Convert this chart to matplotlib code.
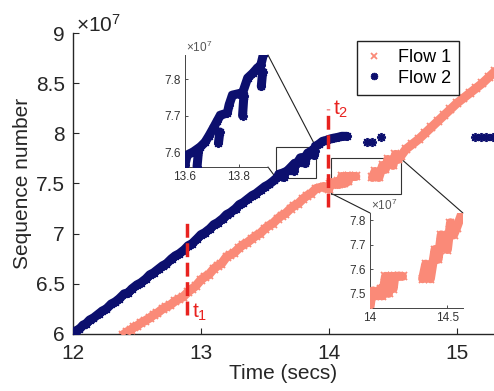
import numpy as np
import matplotlib.pyplot as plt
from matplotlib.patches import Rectangle, ConnectionPatch

plt.rcParams['font.family'] = ['Liberation Sans', 'DejaVu Sans']
plt.rcParams['mathtext.fontset'] = 'custom'
plt.rcParams['mathtext.rm'] = 'Liberation Sans'
plt.rcParams['mathtext.it'] = 'Liberation Sans:italic'

nan = np.nan

# sequence numbers are in units of 1e7, nan breaks the trace where packets stop
flow1_t = [12.39, 12.42, 12.45, 12.48, 12.50, 12.53, 12.56, 12.60, 12.63, 12.66,
           12.70, 12.73, 12.76, 12.80, 12.83, 12.86, 12.90, 12.93, 12.96, 13.00,
           13.03, 13.06, 13.10, 13.13, 13.16, 13.20, 13.23, 13.26, 13.30, 13.33,
           13.36, 13.40, 13.43, 13.46, 13.50, 13.53, 13.56, 13.60, 13.63, 13.66,
           13.70, 13.73, 13.76, 13.80, 13.83, 13.86, 13.90, 13.93, 13.96, 13.99,
           14.00, 14.01, 14.02, nan,
           14.05, 14.07, 14.08, 14.10, 14.11, 14.12, 14.14, 14.15, 14.16, 14.19, 14.21, nan,
           14.34, 14.36, 14.37, 14.39, 14.42, 14.44, 14.46, 14.48, 14.50, 14.52, 14.54,
           14.56, 14.60, 14.65, 14.70, 14.75, 14.80, 14.85, 14.90, 14.95, 15.00,
           15.05, 15.10, 15.15, 15.20, 15.25, 15.30]
flow1_seq = [5.99, 6.02, 6.04, 6.07, 6.08, 6.11, 6.13, 6.16, 6.19, 6.21,
             6.25, 6.27, 6.29, 6.33, 6.35, 6.37, 6.42, 6.45, 6.48, 6.54,
             6.57, 6.59, 6.65, 6.68, 6.70, 6.77, 6.79, 6.81, 6.86, 6.89,
             6.91, 6.95, 6.98, 7.00, 7.05, 7.08, 7.10, 7.15, 7.18, 7.20,
             7.25, 7.28, 7.30, 7.35, 7.38, 7.40, 7.45, 7.46, 7.47, 7.46,
             7.445, 7.49, 7.51, nan,
             7.49, 7.52, 7.49, 7.57, 7.53, 7.50, 7.57, 7.52, 7.57, 7.57, 7.57, nan,
             7.56, 7.62, 7.57, 7.56, 7.68, 7.64, 7.74, 7.70, 7.68, 7.79, 7.74,
             7.77, 7.84, 7.89, 7.94, 8.00, 8.06, 8.12, 8.18, 8.24, 8.30,
             8.35, 8.40, 8.45, 8.50, 8.56, 8.62]

flow2_t = [12.00, 12.02, 12.05, 12.08, 12.10, 12.13, 12.16, 12.20, 12.23, 12.26,
           12.30, 12.33, 12.36, 12.40, 12.43, 12.46, 12.50, 12.53, 12.57, 12.60,
           12.63, 12.67, 12.70, 12.73, 12.77, 12.80, 12.83, 12.87, 12.90, 12.93,
           12.97, 13.00, 13.03, 13.07, 13.10, 13.13, 13.17, 13.20, 13.23, 13.27,
           13.30, 13.33, 13.37, 13.40, 13.43, 13.47, 13.50, 13.53, 13.57,
           13.60, 13.608, 13.63, 13.657, 13.675, 13.69, 13.706, 13.72, 13.732,
           13.758, 13.765, 13.777, 13.80, 13.815, 13.834, 13.853, 13.87, 13.883,
           13.894, 13.92, 13.95, 13.98, 14.00, 14.03, 14.07, 14.10, 14.14, nan,
           13.645, 13.65, nan, 13.725, 13.73, nan, 13.815, 13.82, nan,
           13.885, 13.89, nan,
           14.30, nan, 14.34, nan, 14.41, nan,
           15.14, nan, 15.19, nan, 15.23, nan, 15.28]
flow2_seq = [6.00, 6.03, 6.05, 6.09, 6.10, 6.14, 6.16, 6.20, 6.23, 6.25,
             6.30, 6.32, 6.35, 6.40, 6.41, 6.45, 6.49, 6.51, 6.55, 6.59,
             6.61, 6.65, 6.68, 6.70, 6.75, 6.78, 6.80, 6.84, 6.88, 6.90,
             6.95, 6.99, 7.01, 7.05, 7.09, 7.11, 7.15, 7.19, 7.21, 7.25,
             7.29, 7.31, 7.35, 7.38, 7.40, 7.44, 7.47, 7.49, 7.53,
             7.565, 7.592, 7.60, 7.614, 7.627, 7.645, 7.666, 7.685, 7.701,
             7.707, 7.73, 7.756, 7.76, 7.762, 7.803, 7.816, 7.83, 7.838,
             7.871, 7.89, 7.92, 7.93, 7.94, 7.95, 7.96, 7.97, 7.97, nan,
             7.56, 7.60, nan, 7.625, 7.655, nan, 7.70, 7.755, nan,
             7.78, 7.82, nan,
             7.91, nan, 7.91, nan, 7.96, nan,
             7.96, nan, 7.96, nan, 7.96, nan, 7.96]

flow1_color = '#fa8a78'
flow2_color = '#0c0f6e'

# event markers (time, y start, y end) and zoom regions
t1 = (12.89, 6.19, 7.16)
t2 = (13.99, 7.27, 8.24)
box1 = (13.59, 7.55, 13.90, 7.86)
box2 = (14.02, 7.40, 14.56, 7.75)


def draw_flows(ax, lw=6.5):
    ax.plot(flow1_t, flow1_seq, '-', color=flow1_color, lw=lw,
            solid_capstyle='round', solid_joinstyle='round', zorder=3)
    ax.plot(flow1_t, flow1_seq, ls='none', marker='x', ms=6, mew=1.3,
            color=flow1_color, label='Flow 1', zorder=3)
    ax.plot(flow2_t, flow2_seq, '-', color=flow2_color, lw=lw,
            solid_capstyle='round', solid_joinstyle='round', zorder=4)
    ax.plot(flow2_t, flow2_seq, ls='none', marker=(8, 2, 0), ms=6.5, mew=1.3,
            color=flow2_color, label='Flow 2', zorder=4)


def style_inset(ax, xticks, yticks, xlim, ylim):
    ax.set_facecolor('none')
    for side in ['top', 'right']:
        ax.spines[side].set_visible(False)
    for side in ['left', 'bottom']:
        ax.spines[side].set_color('#444444')
        ax.spines[side].set_linewidth(0.7)
    ax.set_xlim(*xlim)
    ax.set_ylim(*ylim)
    ax.set_xticks(xticks)
    ax.set_xticklabels(['{:g}'.format(v) for v in xticks])
    ax.set_yticks(yticks)
    ax.set_yticklabels(['{:g}'.format(v) for v in yticks])
    ax.tick_params(direction='in', length=2.5, width=0.6, labelsize=8.5,
                   pad=3, colors='#333333')
    ax.text(0.01, 1.0, r'$\times10^{7}$', transform=ax.transAxes,
            fontsize=8.5, color='#555555', ha='left', va='bottom')


fig = plt.figure(figsize=(4.94, 3.91), dpi=100)
ax = fig.add_axes([0.1478, 0.1458, 0.8522, 0.7698])
draw_flows(ax)
ax.set_xlim(12, 15.29)
ax.set_ylim(6, 9)
ax.set_xticks([12, 13, 14, 15])
yt = [6, 6.5, 7, 7.5, 8, 8.5, 9]
ax.set_yticks(yt)
ax.set_yticklabels(['{:g}'.format(v) for v in yt])
for side in ['top', 'right']:
    ax.spines[side].set_visible(False)
for side in ['left', 'bottom']:
    ax.spines[side].set_color('#262626')
    ax.spines[side].set_linewidth(1.0)
ax.tick_params(direction='in', length=4, width=0.8, labelsize=15, pad=7,
               colors='#262626')
ax.tick_params(axis='y', pad=6)
ax.set_xlabel('Time (secs)', fontsize=15, color='#262626', labelpad=1)
ax.set_ylabel('Sequence number', fontsize=15, color='#262626', labelpad=3)
ax.text(0.008, 0.99, r'$\times10^{7}$', transform=ax.transAxes, fontsize=15,
        color='#262626', ha='left', va='bottom')

# event lines
for (tx, y0, y1), sub, ty in [(t1, '1', 6.16), (t2, '2', 8.19)]:
    ax.plot([tx, tx], [y0, y1], color='#e8221f', lw=2.5, dashes=(4, 1.6),
            zorder=6)
    ax.text(tx + 0.04, ty, r'$\mathregular{t_%s}$' % sub, color='#e8221f',
            fontsize=15, va='baseline', ha='left', zorder=6)

# zoom boxes
for bx0, by0, bx1, by1 in [box1, box2]:
    ax.add_patch(Rectangle((bx0, by0), bx1 - bx0, by1 - by0, fill=False,
                           ec='#333333', lw=0.8, zorder=2))

leg = ax.legend(loc='upper left', bbox_to_anchor=(357 / 494, 1 - 41 / 391),
                bbox_transform=fig.transFigure, borderaxespad=0, fontsize=13,
                fancybox=False, framealpha=1, edgecolor='#222222',
                handlelength=1.0, handletextpad=0.8, borderpad=0.45,
                labelspacing=0.2, markerscale=0.8)
leg.get_frame().set_linewidth(1.0)

ax_in1 = fig.add_axes([0.3745, 0.5729, 0.168, 0.2864])
draw_flows(ax_in1)
style_inset(ax_in1, [13.6, 13.8], [7.6, 7.7, 7.8], (13.6, 13.91), (7.559, 7.866))

ax_in2 = fig.add_axes([0.749, 0.2123, 0.188, 0.243])
draw_flows(ax_in2)
style_inset(ax_in2, [14, 14.5], [7.5, 7.6, 7.7, 7.8], (14.0, 14.6), (7.44, 7.83))

# connector lines from the zoom boxes to the insets
links = [(ax_in1, (1, 1), (box1[2], box1[3])),
         (ax_in1, (1, 0), (box1[0], box1[1])),
         (ax_in2, (0, 1), (box2[0], box2[1])),
         (ax_in2, (1, 1), (box2[2], box2[3]))]
for ax_i, corner, pt in links:
    con = ConnectionPatch(xyA=corner, coordsA=ax_i.transAxes, xyB=pt,
                          coordsB=ax.transData, color='#222222', lw=0.8,
                          zorder=1)
    con.set_clip_on(False)
    ax.add_artist(con)

fig.savefig('out.png', dpi=100)
